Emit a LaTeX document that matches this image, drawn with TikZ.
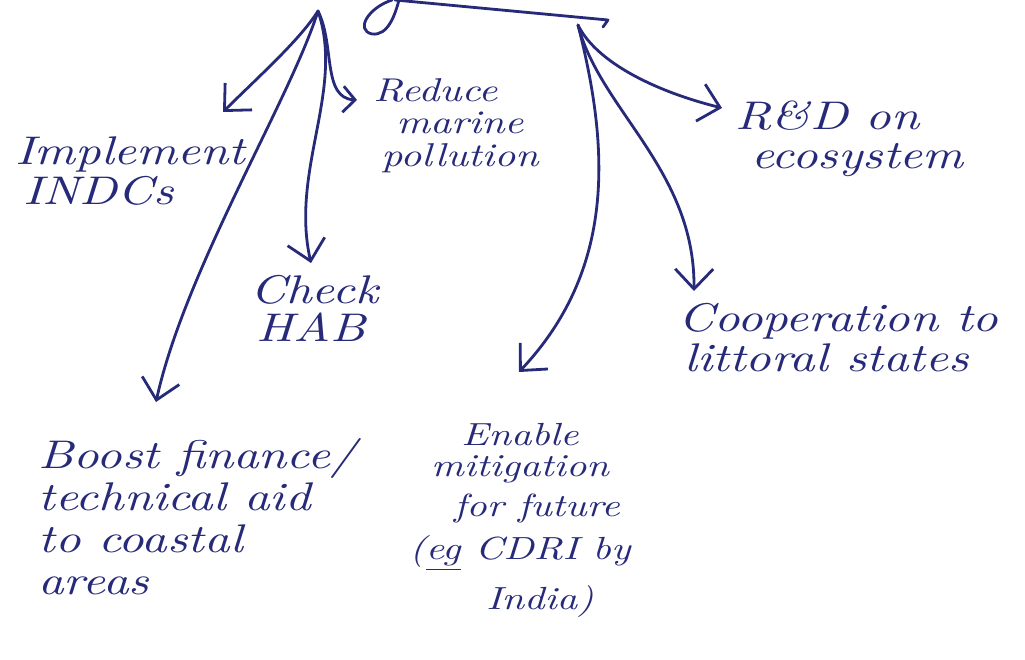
\documentclass[tikz,border=0pt]{standalone}
\usepackage{fontspec}
\newfontfamily\handfont{lmroman10-italic}[Extension=.otf, FakeStretch=1.25]
\usetikzlibrary{arrows.meta}
\definecolor{ink}{RGB}{38,42,120}

\begin{document}
\begin{tikzpicture}[x=0.5pt, y=-0.5pt,
  note/.style={font=\handfont\fontsize{20}{25}\selectfont, text=ink,
    inner sep=0pt, align=left},
  small note/.style={note, font=\handfont\fontsize{16.5}{16}\selectfont},
  tight note/.style={note, font=\handfont\fontsize{20}{21}\selectfont},
  link/.style={draw=ink, line width=1.4pt, line cap=round, line join=round,
    -{Straight Barb[length=10pt, width=19pt, line width=1.4pt]}},
  short link/.style={link,
    -{Straight Barb[length=6pt, width=13pt, line width=1.4pt]}},
  stroke/.style={draw=ink, line width=1.4pt, line cap=round, line join=round}]

% page
\fill[white] (0,0) rectangle (1025,660);
\useasboundingbox (0,0) rectangle (1025,660);

% heading underline and the descender above it
\draw[stroke] (395,0) -- (608,20) -- (603,27);
\draw[stroke] (392,0) .. controls (368,8) and (355,30) .. (372,34)
              .. controls (388,36) and (395,15) .. (399,0);

% branching points
\coordinate (hubL) at (318,11);
\coordinate (hubR) at (578,25);

% measures
\node[note, anchor=north west] (impl) at (15,136)
  {Implement\\[-5pt]\hspace*{4pt}INDCs};
\node[small note, anchor=north west] (reduce) at (373,78)
  {Reduce\\\hspace*{11.5pt}marine\\[0.5pt]\hspace*{4pt}pollution};
\node[note, anchor=north west] (check) at (250,275)
  {Check\\[-6pt]\hspace*{3pt}HAB};
\node[tight note, anchor=north west] (boost) at (38,438)
  {Boost finance/\\technical aid\\to coastal\\areas};
\node[note, anchor=north, align=center,
      font=\handfont\fontsize{16}{20}\selectfont] (enable) at (520,423)
  {Enable\\[-4.5pt]mitigation\\\hspace*{17pt}for future\\[1.5pt]%
   (\underline{eg} CDRI by\\[5pt]\hspace*{20pt}India)};
\node[note, anchor=north west] (rnd) at (735,100)
  {R\&D on\\[-5.5pt]\hspace*{8pt}ecosystem};
\node[note, anchor=north west] (coop) at (678,303)
  {Cooperation to\\[-5pt]\hspace*{3pt}littoral states};

% arrow ends
\coordinate (impl-in)   at (223,112);
\coordinate (reduce-in) at (357,100);
\coordinate (check-in)  at (311,263);
\coordinate (boost-in)  at (156,402);
\coordinate (rnd-in)    at (722,108);
\coordinate (coop-in)   at (694,291);
\coordinate (enable-in) at (519,372);

% connectors
\draw[link] (hubL) .. controls (300,40) and (255,80) .. (impl-in);
\draw[short link] (hubL) .. controls (335,45) and (322,98) .. (reduce-in);
\draw[link] (hubL) .. controls (345,90) and (290,170) .. (check-in);
\draw[link] (hubL) .. controls (290,100) and (185,270) .. (boost-in);
\draw[link] (hubR) .. controls (595,60) and (650,90) .. (rnd-in);
\draw[link] (hubR) .. controls (600,110) and (695,170) .. (coop-in);
\draw[link] (hubR) .. controls (610,150) and (615,270) .. (enable-in);
\end{tikzpicture}
\end{document}
